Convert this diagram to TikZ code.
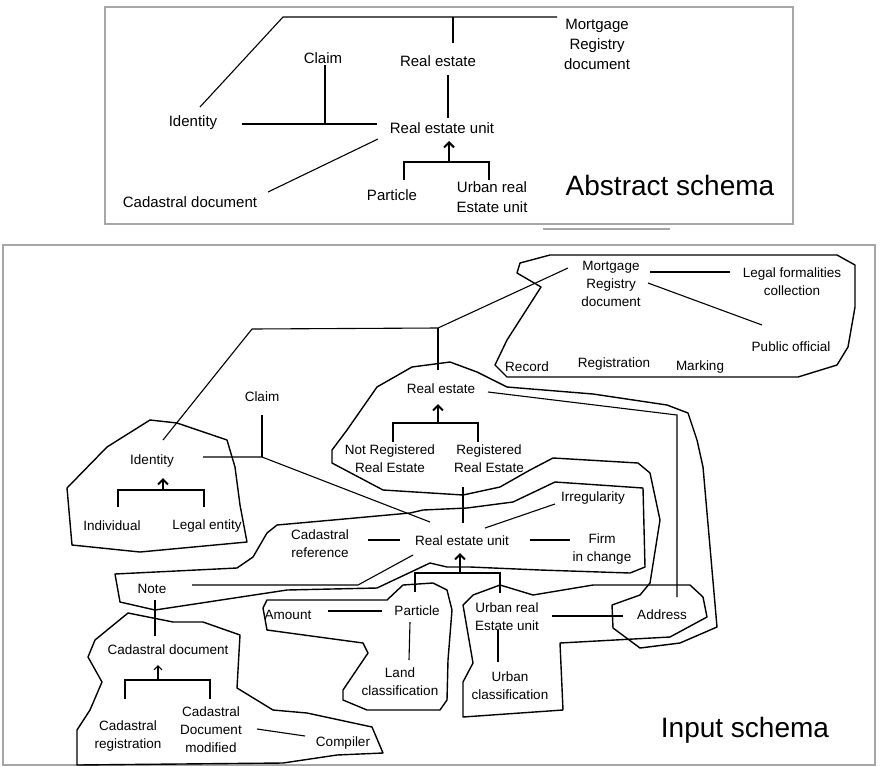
\documentclass[tikz,border=0pt]{standalone}
\usepackage{fontspec}
\setmainfont{Liberation Sans}
\usetikzlibrary{arrows.meta}
\tikzset{
  lblA/.style={inner sep=0pt, align=center, font=\fontsize{15}{20}\selectfont},
  lbl/.style={inner sep=0pt, align=center, font=\fontsize{13.5}{18}\selectfont},
  ttl/.style={inner sep=0pt, font=\fontsize{28}{32}\selectfont},
  conn/.style={line width=1.1pt, black},
  hull/.style={line width=1.4pt, black, line join=round},
  frame/.style={line width=1.4pt, gray!70},
  isa/.style={line width=2pt, black},
  isatip/.style={line width=2pt, -{Straight Barb[length=5pt,width=10pt]}},
  isathin/.style={line width=1.1pt, -{Straight Barb[length=4pt,width=8pt]}}
}
\begin{document}
\begin{tikzpicture}[x=1pt,y=-1pt]
\useasboundingbox (0,0) rectangle (880,766);
\fill[white] (0,0) rectangle (880,766);

% ===== Abstract schema =====
\draw[frame] (105,7) rectangle (793,224);
\coordinate (ul1) at (543,229); \coordinate (ul2) at (670,229);
\draw[frame] (ul1) -- (ul2);

\node[lblA] (aMort) at (597,44) {Mortgage\\Registry\\document};
\node[lblA] (aClaim) at (323,58) {Claim};
\node[lblA] (aRE) at (438,61) {Real estate};
\node[lblA] (aId) at (193,123) {Identity};
\node[lblA] (aREU) at (442,128) {Real estate unit};
\node[lblA] (aCad) at (190,202) {Cadastral document};
\node[lblA] (aPart) at (392,195) {Particle};
\node[lblA] (aUrb) at (492,197) {Urban real\\Estate unit};
\node[ttl] (aTitle) at (670,185) {Abstract schema};

\coordinate (aT1) at (283,17); \coordinate (aT2) at (557,17); \coordinate (aT3) at (453,17);
\coordinate (aIdT) at (200,107); \coordinate (aRET) at (453,43);
\draw[conn] (aT2) -- (aT1) -- (aIdT);
\draw[conn] (aT3) -- (aRET);
\coordinate (aREb) at (448,75); \coordinate (aREUt) at (448,118);
\draw[conn] (aREb) -- (aREUt);
\coordinate (aIdE) at (242,124); \coordinate (aREUw) at (377,124);
\coordinate (aClB) at (325,65); \coordinate (aClJ) at (325,124);
\draw[conn] (aIdE) -- (aREUw);
\draw[conn] (aClB) -- (aClJ);
\coordinate (aREUsw) at (378,139); \coordinate (aCadE) at (268,192);
\draw[conn] (aREUsw) -- (aCadE);
\coordinate (aAr1) at (449,162); \coordinate (aAr2) at (449,141);
\coordinate (aBl) at (404,180); \coordinate (aBlt) at (404,162);
\coordinate (aBr) at (489,180); \coordinate (aBrt) at (489,162);
\draw[isa] (aBl) -- (aBlt) -- (aBrt) -- (aBr);
\draw[isatip] (aAr1) -- (aAr2);

% ===== Input schema =====
\draw[frame] (3,245) rectangle (875,765);

% hulls
\draw[hull] (520,263) -- (550,255) -- (837,255) -- (855,265) -- (855,307) -- (848,347) -- (837,365) -- (798,377) -- (507,377) -- (495,365) -- (507,340) -- (541,287) -- (517,273) -- cycle;
\draw[hull] (412,367) -- (450,362) -- (477,372) -- (507,387) -- (593,394) -- (667,405) -- (688,413) -- (697,440) -- (703,467) -- (717,627) -- (680,643) -- (640,648) -- (613,628) -- (612,605) -- (640,595) -- (650,583) -- (660,520) -- (650,473) -- (638,463) -- (553,458) -- (530,470) -- (500,487) -- (463,495) -- (383,490) -- (332,463) -- (332,450) -- (347,430) -- (377,387) -- cycle;
\draw[hull] (150,420) -- (177,423) -- (227,440) -- (235,467) -- (240,505) -- (247,542) -- (140,552) -- (72,545) -- (67,488) -- (107,447) -- cycle;
\draw[hull] (115,574) -- (237,568) -- (253,557) -- (267,533) -- (277,525) -- (333,520) -- (410,513) -- (423,510) -- (467,508) -- (513,502) -- (555,482) -- (643,488) -- (645,567) -- (630,573) -- (540,570) -- (470,567) -- (447,567) -- (430,563) -- (377,588) -- (287,590) -- (155,610) -- (120,602) -- cycle;
\draw[hull] (267,600) -- (387,600) -- (403,585) -- (433,583) -- (447,590) -- (452,610) -- (448,660) -- (447,700) -- (440,710) -- (367,710) -- (343,700) -- (343,690) -- (368,653) -- (363,643) -- (267,630) -- (263,608) -- cycle;
\draw[hull] (463,605) -- (473,595) -- (500,585) -- (533,595) -- (593,585) -- (690,585) -- (703,597) -- (707,617) -- (670,637) -- (560,643) -- (563,710) -- (463,717) -- (463,682) -- (473,663) -- cycle;
\draw[hull] (128,613) -- (173,622) -- (203,622) -- (240,635) -- (237,688) -- (273,710) -- (307,713) -- (372,727) -- (383,753) -- (337,755) -- (283,763) -- (77,765) -- (77,730) -- (90,710) -- (102,682) -- (88,657) -- (95,640) -- cycle;

% nodes
\node[lbl] (bMort) at (611,284) {Mortgage\\Registry\\document};
\node[lbl] (bLegal) at (792,282) {Legal formalities\\collection};
\node[lbl] (bPub) at (791,347) {Public official};
\node[lbl] (bRec) at (527,367) {Record};
\node[lbl] (bReg) at (614,364) {Registration};
\node[lbl] (bMark) at (700,367) {Marking};
\node[lbl] (bRE) at (441,389) {Real estate};
\node[lbl] (bNR) at (390,459) {Not Registered\\Real Estate};
\node[lbl] (bR) at (489,459) {Registered\\Real Estate};
\node[lbl] (bClaim) at (262,397) {Claim};
\node[lbl] (bId) at (152,461) {Identity};
\node[lbl] (bInd) at (112,526) {Individual};
\node[lbl] (bLeg) at (207,526) {Legal entity};
\node[lbl] (bCadRef) at (320,544) {Cadastral\\reference};
\node[lbl] (bREU) at (462,541) {Real estate unit};
\node[lbl] (bIrr) at (593,498) {Irregularity};
\node[lbl] (bFirm) at (602,549) {Firm\\in change};
\node[lbl] (bNote) at (152,589) {Note};
\node[lbl] (bAmount) at (288,615) {Amount};
\node[lbl] (bPart) at (417,611) {Particle};
\node[lbl] (bUrb) at (507,617) {Urban real\\Estate unit};
\node[lbl] (bAddr) at (662,615) {Address};
\node[lbl] (bLand) at (400,682) {Land\\classification};
\node[lbl] (bUrbCl) at (510,686) {Urban\\classification};
\node[lbl] (bCadDoc) at (168,650) {Cadastral document};
\node[lbl] (bCadReg) at (128,736) {Cadastral\\registration};
\node[lbl] (bCadMod) at (211,730) {Cadastral\\Document\\modified};
\node[lbl] (bComp) at (343,743) {Compiler};
\node[ttl] (bTitle) at (745,730) {Input schema};

% connectors
\coordinate (bM1) at (568,268); \coordinate (bM2) at (438,328);
\coordinate (bM3) at (252,329); \coordinate (bIdT) at (163,440);
\coordinate (bRET) at (438,370);
\draw[conn] (bM1) -- (bM2) -- (bM3) -- (bIdT);
\draw[conn] (bM2) -- (bRET);
\coordinate (bMLa) at (650,272); \coordinate (bMLb) at (730,272);
\draw[conn] (bMLa) -- (bMLb);
\coordinate (bMPa) at (648,283); \coordinate (bMPb) at (762,325);
\draw[conn] (bMPa) -- (bMPb);
\coordinate (bRA1) at (488,392); \coordinate (bRA2) at (677,415); \coordinate (bRA3) at (677,597);
\draw[conn] (bRA1) -- (bRA2) -- (bRA3);
\coordinate (bReAr1) at (438,423); \coordinate (bReAr2) at (438,404);
\coordinate (bReBl) at (393,442); \coordinate (bReBlt) at (393,423);
\coordinate (bReBr) at (478,442); \coordinate (bReBrt) at (478,423);
\draw[isa] (bReBl) -- (bReBlt) -- (bReBrt) -- (bReBr);
\draw[isatip] (bReAr1) -- (bReAr2);
\coordinate (bClB) at (262,415); \coordinate (bClJ) at (262,457);
\coordinate (bIdE) at (203,457); \coordinate (bREUnw) at (430,522);
\draw[conn] (bClB) -- (bClJ);
\draw[conn] (bIdE) -- (bClJ) -- (bREUnw);
\coordinate (bIdAr1) at (163,490); \coordinate (bIdAr2) at (163,478);
\coordinate (bIdBl) at (118,507); \coordinate (bIdBlt) at (118,490);
\coordinate (bIdBr) at (204,507); \coordinate (bIdBrt) at (204,490);
\draw[isa] (bIdBl) -- (bIdBlt) -- (bIdBrt) -- (bIdBr);
\draw[isatip] (bIdAr1) -- (bIdAr2);
\coordinate (bRb) at (463,487); \coordinate (bREUt) at (463,523);
\draw[conn] (bRb) -- (bREUt);
\coordinate (bCRa) at (368,540); \coordinate (bCRb) at (400,540);
\draw[conn] (bCRa) -- (bCRb);
\coordinate (bFa) at (530,540); \coordinate (bFb) at (570,540);
\draw[conn] (bFa) -- (bFb);
\coordinate (bIa) at (485,528); \coordinate (bIb) at (555,504);
\draw[conn] (bIa) -- (bIb);
\coordinate (bN1) at (192,585); \coordinate (bN2) at (358,585); \coordinate (bN3) at (413,555);
\draw[conn] (bN1) -- (bN2) -- (bN3);
\coordinate (bUAr1) at (460,573); \coordinate (bUAr2) at (460,553);
\coordinate (bUBl) at (415,592); \coordinate (bUBlt) at (415,573);
\coordinate (bUBr) at (500,593); \coordinate (bUBrt) at (500,573);
\draw[conn] (bUBl) -- (bUBlt) -- (bUBrt) -- (bUBr);
\draw[isatip] (bUAr1) -- (bUAr2);
\coordinate (bAPa) at (328,611); \coordinate (bAPb) at (382,611);
\draw[conn] (bAPa) -- (bAPb);
\coordinate (bPLa) at (410,622); \coordinate (bPLb) at (409,660);
\draw[conn] (bPLa) -- (bPLb);
\coordinate (bUAa) at (552,616); \coordinate (bUAb) at (623,616);
\draw[conn] (bUAa) -- (bUAb);
\coordinate (bUCa) at (498,630); \coordinate (bUCb) at (498,662);
\draw[conn] (bUCa) -- (bUCb);
\coordinate (bNCa) at (155,600); \coordinate (bNCb) at (155,636);
\draw[conn] (bNCa) -- (bNCb);
\coordinate (bCAr1) at (158,680); \coordinate (bCAr2) at (158,665);
\coordinate (bCBl) at (125,699); \coordinate (bCBlt) at (125,680);
\coordinate (bCBr) at (210,699); \coordinate (bCBrt) at (210,680);
\draw[conn] (bCBl) -- (bCBlt) -- (bCBrt) -- (bCBr);
\draw[isathin] (bCAr1) -- (bCAr2);
\coordinate (bCCa) at (257,729); \coordinate (bCCb) at (305,736);
\draw[conn] (bCCa) -- (bCCb);
\end{tikzpicture}
\end{document}
